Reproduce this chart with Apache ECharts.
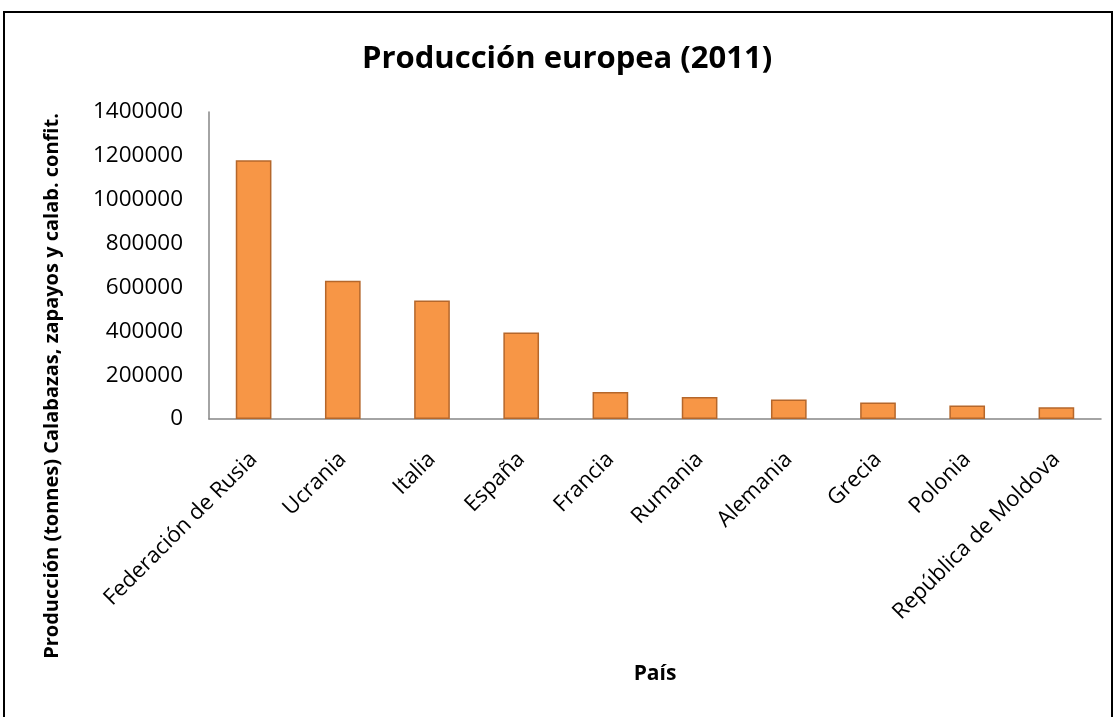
<!DOCTYPE html>
<html>
<head>
<meta charset="utf-8">
<script src="https://cdn.jsdelivr.net/npm/echarts@6/dist/echarts.min.js"></script>
<style>
  html, body { margin: 0; padding: 0; background: #fff; }
  #chart { width: 1117px; height: 717px; }
</style>
</head>
<body>
<div id="chart"></div>
<script>
// Production of pumpkins, squash and gourds, European countries, 2011 (tonnes)
const countries = [
  'Federación de Rusia', 'Ucrania', 'Italia', 'España', 'Francia',
  'Rumania', 'Alemania', 'Grecia', 'Polonia', 'República de Moldova'
];
const production = [
  1180000, 630000, 540000, 395000, 123000,
  100500, 88500, 75000, 62000, 54000
];
const yTicks = [0, 200000, 400000, 600000, 800000, 1000000, 1200000, 1400000];

const FONT = '"Open Sans", "Liberation Sans", sans-serif';

const chart = echarts.init(document.getElementById('chart'), null, { renderer: 'canvas' });

chart.setOption({
  backgroundColor: '#ffffff',
  animation: false,
  title: {
    text: 'Producción europea (2011)',
    left: 362,
    top: 44,
    padding: 0,
    textStyle: { fontFamily: FONT, fontWeight: 'bold', fontSize: 31, color: '#000' }
  },
  grid: { left: 209, top: 112, right: 16, bottom: 298, containLabel: false },
  xAxis: {
    type: 'category',
    data: countries,
    axisLine: { lineStyle: { color: '#868686', width: 1.5 } },
    axisTick: { show: false },
    axisLabel: {
      rotate: 45,
      interval: 0,
      margin: 37,
      color: '#000',
      fontFamily: FONT,
      fontSize: 22
    }
  },
  yAxis: {
    type: 'value',
    min: yTicks[0],
    max: yTicks[yTicks.length - 1],
    interval: yTicks[1] - yTicks[0],
    axisLine: { show: true, lineStyle: { color: '#868686', width: 1.5 } },
    axisTick: { show: false },
    splitLine: { show: false },
    axisLabel: {
      margin: 26,
      color: '#000',
      fontFamily: FONT,
      fontSize: 22.5,
      formatter: v => String(v)
    }
  },
  series: [{
    type: 'bar',
    data: production,
    barCategoryGap: '60%',
    itemStyle: { color: '#F79646', borderColor: '#B5672B', borderWidth: 1.5 }
  }],
  graphic: [
    {
      type: 'rect',
      shape: { x: 4, y: 12, width: 1108, height: 720 },
      style: { fill: 'none', stroke: '#000', lineWidth: 2 }
    },
    {
      type: 'text',
      x: 52,
      y: 386,
      rotation: Math.PI / 2,
      style: {
        text: 'Producción (tonnes) Calabazas, zapayos y calab. confit.',
        fontFamily: FONT,
        fontWeight: 'bold',
        fontSize: 20,
        fill: '#000',
        align: 'center',
        verticalAlign: 'middle'
      }
    },
    {
      type: 'text',
      x: 655,
      y: 674,
      style: {
        text: 'País',
        fontFamily: FONT,
        fontWeight: 'bold',
        fontSize: 21,
        fill: '#000',
        align: 'center',
        verticalAlign: 'middle'
      }
    }
  ]
});
</script>
</body>
</html>
